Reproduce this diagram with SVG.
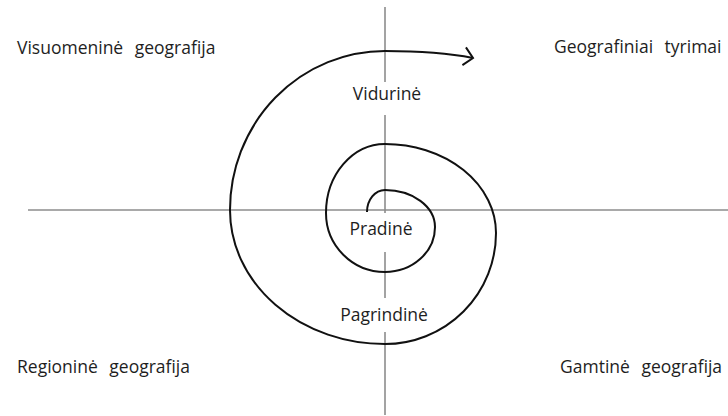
<svg xmlns="http://www.w3.org/2000/svg" width="728" height="416" viewBox="0 0 728 416">
<style>
.t{font-family:"Open Sans","Noto Sans",sans-serif;font-size:17.5px;fill:#1e1e1e}
.w{word-spacing:7px}
.c{text-anchor:middle}
.axis{stroke:#8c8c8c;stroke-width:1.6;fill:none}
.sp{stroke:#111;stroke-width:2;fill:none}
</style>
<defs>
<marker id="arr" viewBox="0 0 12 20" refX="10" refY="10" markerWidth="12" markerHeight="20" markerUnits="userSpaceOnUse" orient="auto">
<path d="M1,1 L10,10 L1,19" fill="none" stroke="#111" stroke-width="2"/>
</marker>
</defs>
<rect width="728" height="416" fill="#fff"/>
<g id="axes">
<line class="axis" x1="28" y1="210" x2="728" y2="210"/>
<line class="axis" x1="385" y1="7" x2="385" y2="82"/>
<line class="axis" x1="385" y1="115" x2="385" y2="213"/>
<line class="axis" x1="385" y1="252" x2="385" y2="298"/>
<line class="axis" x1="385" y1="332" x2="385" y2="415"/>
</g>
<g id="connectors">
<path class="sp" marker-end="url(#arr)" d="M367,212 A18,22 0 0 1 385,190 A50,37 0 0 1 435,227 A50,45 0 0 1 385,272 A59,59 0 0 1 326,213 A59,69 0 0 1 385,144 A111,89 0 0 1 496,233 A111,111 0 0 1 385,344 A155,134 0 0 1 230,210 A155,159 0 0 1 385,51 C420,51 448,53 473,58"/>
</g>
<g id="visuomenine"><text class="t w" x="17" y="54">Visuomeninė geografija</text></g>
<g id="tyrimai"><text class="t w" x="554" y="53">Geografiniai tyrimai</text></g>
<g id="regionine"><text class="t w" x="17" y="373">Regioninė geografija</text></g>
<g id="gamtine"><text class="t w" x="560" y="373">Gamtinė geografija</text></g>
<g id="vidurine"><text class="t c" x="387" y="100">Vidurinė</text></g>
<g id="pradine"><text class="t c" x="381" y="235">Pradinė</text></g>
<g id="pagrindine"><text class="t c" x="384" y="321">Pagrindinė</text></g>
</svg>
